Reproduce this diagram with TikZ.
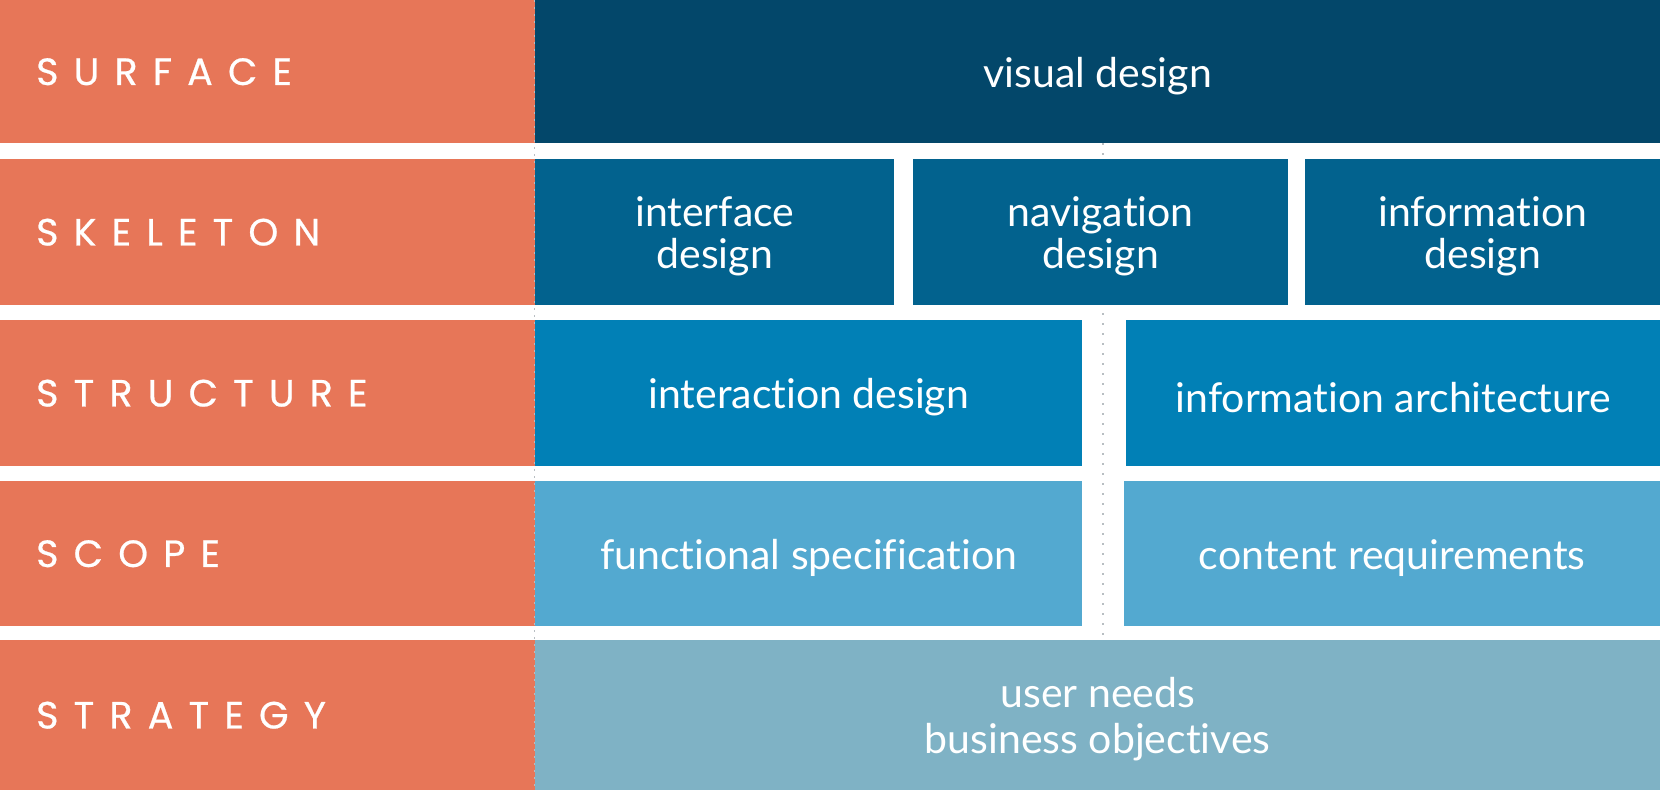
\documentclass[tikz,border=0pt]{standalone}
\usepackage{fontspec}
\setmainfont[Ligatures=NoCommon]{Lato}
\newfontfamily\layerfont[LetterSpace=40, FakeBold=0.6]{Poppins}
\definecolor{layerorange}{HTML}{E77658}
\definecolor{surfacec}{HTML}{03476A}
\definecolor{skeletonc}{HTML}{02628E}
\definecolor{structurec}{HTML}{0180B6}
\definecolor{scopec}{HTML}{53A9D0}
\definecolor{strategyc}{HTML}{7FB2C5}
\definecolor{dotgray}{HTML}{B8BEC2}
\tikzset{
  cell/.style={rectangle, inner sep=0pt, anchor=north west, draw=none},
  celltext/.style={inner sep=0pt, text=white, align=center,
    font=\fontsize{41}{41.5}\selectfont, yshift=-4pt},
  layer/.style={cell, fill=layerorange, minimum width=535pt},
  layername/.style={anchor=west, inner sep=0pt, text=white,
    font=\layerfont\fontsize{38}{38}\selectfont},
  guide/.style={dotgray, line width=2.2pt, dash pattern=on 2.2pt off 7.8pt}
}
\begin{document}
\begin{tikzpicture}[x=1pt, y=-1pt]
\useasboundingbox[fill=white] (0,0) rectangle (1660,790);

% dotted centre guide, seen through the gaps
\coordinate (gtop) at (1103,143);
\coordinate (gbot) at (1103,640);
\draw[guide] (gtop) -- (gbot);

% left column: layer names
\node[layer, minimum height=143pt] (l1) at (0,0) {};
\node[layer, minimum height=146pt] (l2) at (0,159) {};
\node[layer, minimum height=146pt] (l3) at (0,320) {};
\node[layer, minimum height=145pt] (l4) at (0,481) {};
\node[layer, minimum height=150pt] (l5) at (0,640) {};
\node[layername] (n1) at ([xshift=36pt]l1.west) {SURFACE};
\node[layername] (n2) at ([xshift=36pt]l2.west) {SKELETON};
\node[layername] (n3) at ([xshift=36pt]l3.west) {STRUCTURE};
\node[layername] (n4) at ([xshift=36pt]l4.west) {SCOPE};
\node[layername] (n5) at ([xshift=36pt]l5.west) {STRATEGY};

% surface
\node[cell, fill=surfacec, minimum width=1125pt, minimum height=143pt] (visual) at (535,0) {};
\node[celltext] (visualt) at (visual.center) {visual design};

% skeleton
\node[cell, fill=skeletonc, minimum width=359pt, minimum height=146pt] (iface) at (535,159) {};
\node[cell, fill=skeletonc, minimum width=375pt, minimum height=146pt] (nav) at (913,159) {};
\node[cell, fill=skeletonc, minimum width=355pt, minimum height=146pt] (infod) at (1305,159) {};
\node[celltext] (ifacet) at (iface.center) {interface\\design};
\node[celltext] (navt) at (nav.center) {navigation\\design};
\node[celltext] (infodt) at (infod.center) {information\\design};

% structure
\node[cell, fill=structurec, minimum width=547pt, minimum height=146pt] (interact) at (535,320) {};
\node[cell, fill=structurec, minimum width=534pt, minimum height=146pt] (ia) at (1126,320) {};
\node[celltext] (interactt) at (interact.center) {interaction design};
\node[celltext] (iat) at (ia.center) {information architecture};

% scope
\node[cell, fill=scopec, minimum width=547pt, minimum height=145pt] (funcspec) at (535,481) {};
\node[cell, fill=scopec, minimum width=536pt, minimum height=145pt] (content) at (1124,481) {};
\node[celltext] (funcspect) at (funcspec.center) {functional specification};
\node[celltext] (contentt) at (content.center) {content requirements};

% strategy
\node[cell, fill=strategyc, minimum width=1125pt, minimum height=150pt] (strat) at (535,640) {};
\node[celltext, font=\fontsize{41}{46}\selectfont] (stratt) at (strat.center) {user needs\\business objectives};

% dotted border between the two columns
\coordinate (btop) at (534.5,0);
\coordinate (bbot) at (534.5,790);
\draw[guide, line width=1.6pt, dash pattern=on 1.6pt off 5.4pt] (btop) -- (bbot);
\end{tikzpicture}
\end{document}
